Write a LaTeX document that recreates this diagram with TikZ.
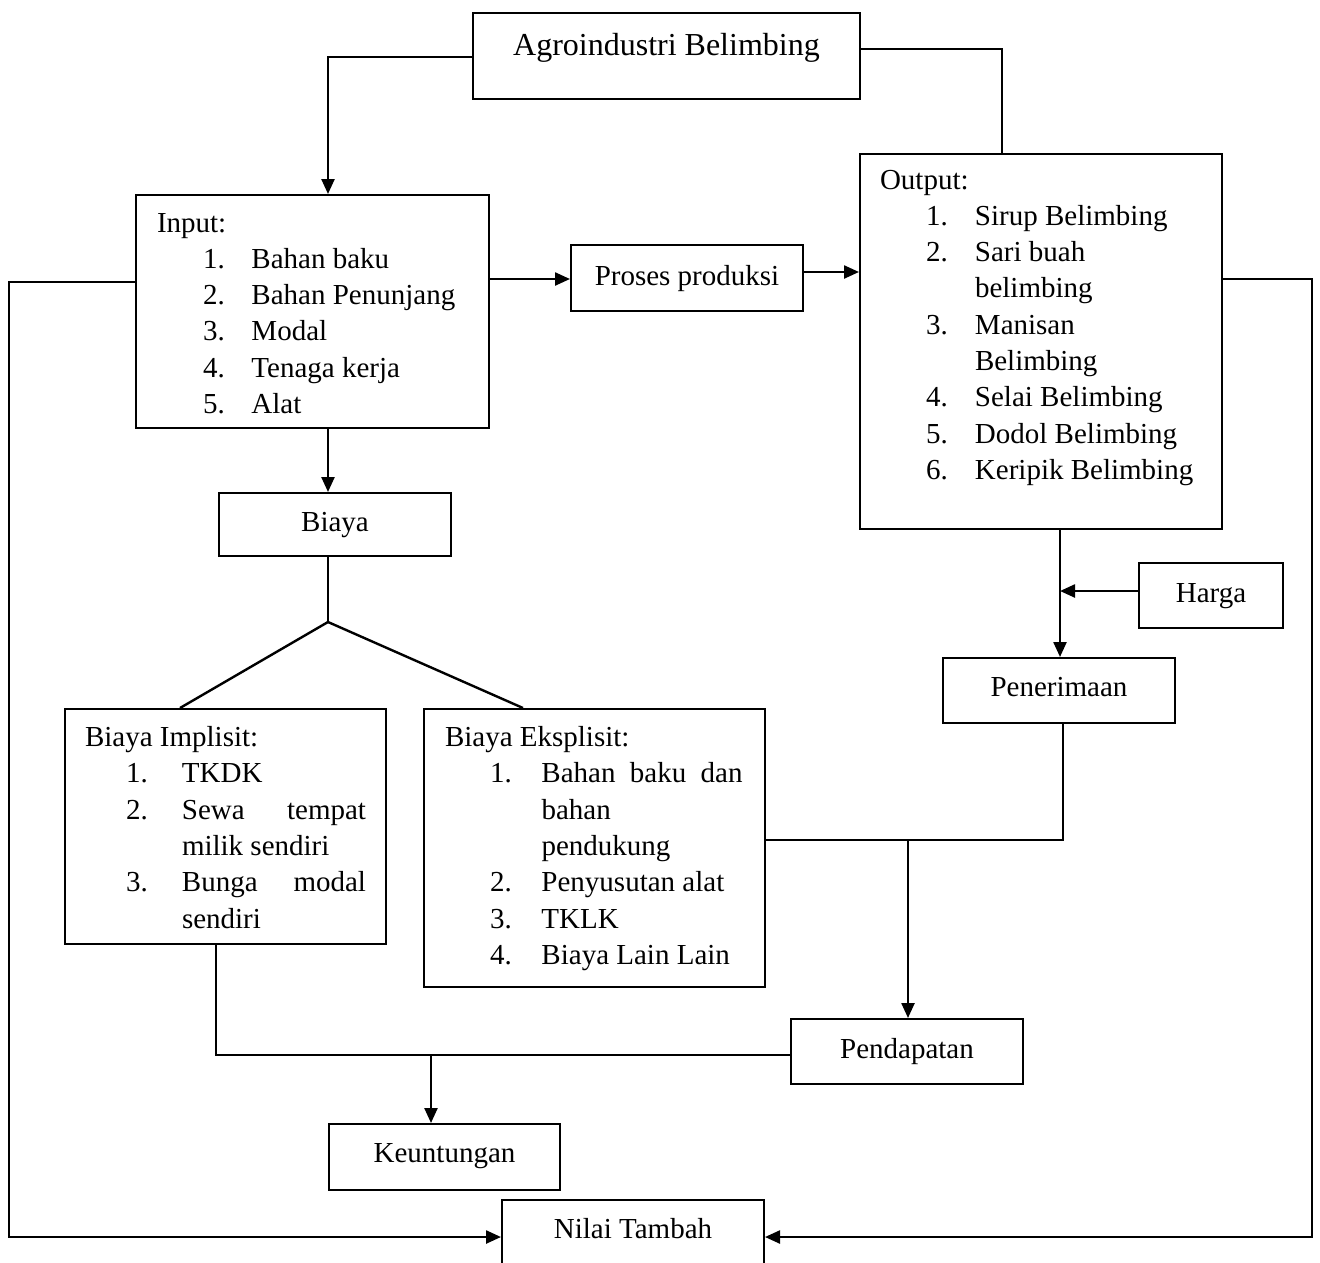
\documentclass[tikz,border=0pt]{standalone}
\usepackage{fontspec}
\setmainfont{Liberation Serif}
\usetikzlibrary{arrows.meta}
\newcommand{\bx}[4]{\parbox[c][#2pt][t]{#1pt}{\vspace*{#3pt}#4}}
\newcommand{\ttl}[2]{\strut\hspace*{#1pt}#2}
\newcommand{\itm}[4]{\strut\hspace*{#1pt}\makebox[#2pt][l]{#3}#4}
\tikzset{
  box/.style={draw, line width=2pt, inner sep=0pt, anchor=north west,
    font=\fontsize{29}{36.3}\selectfont},
  conn/.style={line width=2.4pt},
  arr/.style={conn, -{Triangle[length=15pt,width=13pt]}},
}
\begin{document}
\begin{tikzpicture}[x=1pt,y=-1pt]
\useasboundingbox (0,0) rectangle (1320,1262);
\fill[white] (0,0) rectangle (1320,1262);

% boxes
\node[box] (agro) at (472,12) {\bx{387}{86}{14}{\fontsize{32}{40}\selectfont\centering\strut Agroindustri Belimbing}};

\node[box] (input) at (135,194) {\bx{353}{233}{11.6}{%
\ttl{21}{Input:}\\
\itm{67}{48.5}{1.}{Bahan baku}\\
\itm{67}{48.5}{2.}{Bahan Penunjang}\\
\itm{67}{48.5}{3.}{Modal}\\
\itm{67}{48.5}{4.}{Tenaga kerja}\\
\itm{67}{48.5}{5.}{Alat}}};

\node[box] (proses) at (570,244) {\bx{232}{66}{14.6}{\centering\strut Proses produksi}};

\node[box] (output) at (859,153) {\bx{362}{375}{9.6}{%
\ttl{20}{Output:}\\
\itm{66}{49}{1.}{Sirup Belimbing}\\
\itm{66}{49}{2.}{Sari buah}\\
\itm{66}{49}{}{belimbing}\\
\itm{66}{49}{3.}{Manisan}\\
\itm{66}{49}{}{Belimbing}\\
\itm{66}{49}{4.}{Selai Belimbing}\\
\itm{66}{49}{5.}{Dodol Belimbing}\\
\itm{66}{49}{6.}{Keripik Belimbing}}};

\node[box] (biaya) at (218,492) {\bx{232}{63}{12.6}{\centering\strut Biaya}};

\node[box] (harga) at (1138,562) {\bx{144}{65}{13.6}{\centering\strut Harga}};

\node[box] (penerimaan) at (942,657) {\bx{232}{65}{13.1}{\centering\strut Penerimaan}};

\node[box] (implisit) at (64,708) {\bx{321}{235}{12.1}{%
\ttl{20}{Biaya Implisit:}\\
\itm{61}{56}{1.}{TKDK}\\
\itm{61}{56}{2.}{\makebox[184pt][s]{Sewa tempat}}\\
\itm{61}{56}{}{milik sendiri}\\
\itm{61}{56}{3.}{\makebox[184pt][s]{Bunga modal}}\\
\itm{61}{56}{}{sendiri}}};

\node[box] (eksplisit) at (423,708) {\bx{341}{278}{12.1}{%
\ttl{21}{Biaya Eksplisit:}\\
\itm{66}{51.5}{1.}{\makebox[201pt][s]{Bahan baku dan}}\\
\itm{66}{51.5}{}{bahan}\\
\itm{66}{51.5}{}{pendukung}\\
\itm{66}{51.5}{2.}{Penyusutan alat}\\
\itm{66}{51.5}{3.}{TKLK}\\
\itm{66}{51.5}{4.}{Biaya Lain Lain}}};

\node[box] (pendapatan) at (790,1018) {\bx{232}{65}{14}{\centering\strut Pendapatan}};

\node[box] (keuntungan) at (328,1123) {\bx{231}{66}{13}{\centering\strut Keuntungan}};

\node[box] (nilai) at (501,1199) {\bx{262}{90}{13}{\centering\strut Nilai Tambah}};

% bend coordinates
\coordinate (a1) at (328,57);
\coordinate (a2) at (1002,49);
\coordinate (p1) at (0,279);
\coordinate (p2) at (0,272);
\coordinate (apex) at (328,622);
\coordinate (bi1) at (180,0);
\coordinate (bi2) at (523,0);
\coordinate (o1) at (1060,0);
\coordinate (h1) at (0,591);
\coordinate (j1) at (1063,840);
\coordinate (j2) at (908,840);
\coordinate (k1) at (216,1055);
\coordinate (k2) at (431,1055);
\coordinate (l1) at (9,282);
\coordinate (l2) at (9,1237);
\coordinate (r1) at (1312,279);
\coordinate (r2) at (1312,1237);

% connectors
\draw[arr] (agro.west |- a1) -- (a1) -- (input.north -| a1);
\draw[conn] (agro.east |- a2) -- (a2) -- (output.north -| a2);
\draw[arr] (input.east |- p1) -- (proses.west |- p1);
\draw[arr] (proses.east |- p2) -- (output.west |- p2);
\draw[arr] (input.south -| a1) -- (biaya.north -| a1);
\draw[conn] (biaya.south -| apex) -- (apex);
\draw[conn] (apex) -- (implisit.north -| bi1);
\draw[conn] (apex) -- (eksplisit.north -| bi2);
\draw[arr] (output.south -| o1) -- (penerimaan.north -| o1);
\draw[arr] (harga.west |- h1) -- (o1 |- h1);
\draw[conn] (penerimaan.south -| j1) -- (j1) -- (eksplisit.east |- j1);
\draw[arr] (j2) -- (pendapatan.north -| j2);
\draw[conn] (implisit.south -| k1) -- (k1) -- (pendapatan.west |- k1);
\draw[arr] (k2) -- (keuntungan.north -| k2);
\draw[arr] (input.west |- l1) -- (l1) -- (l2) -- (nilai.west |- l2);
\draw[arr] (output.east |- r1) -- (r1) -- (r2) -- (nilai.east |- r2);
\end{tikzpicture}
\end{document}
